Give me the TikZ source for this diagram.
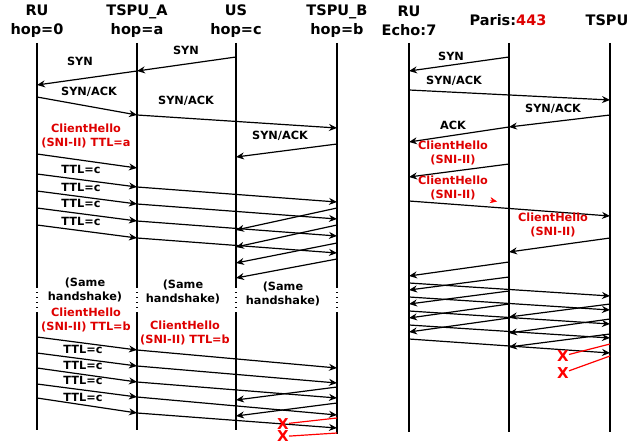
\documentclass[tikz,border=0pt]{standalone}
\usepackage{fontspec}
\setmainfont{DejaVu Sans}
\usepackage{xcolor}
\usepackage{tikz}
\usetikzlibrary{arrows.meta, positioning}
\definecolor{chred}{RGB}{222,0,0}
\tikzset{
  actor/.style={font=\bfseries\fontsize{14.5}{19}\selectfont, align=center, inner sep=0pt},
  msglbl/.style={font=\bfseries\fontsize{11.3}{14}\selectfont, align=center, inner sep=0pt},
  redlbl/.style={msglbl, text=chred},
  lost/.style={font=\bfseries\fontsize{15}{15}\selectfont, text=red, inner sep=0pt},
  lifeline/.style={line width=1.3pt},
  gapline/.style={line width=1.3pt, dash pattern=on 1.2pt off 3.8pt},
  msg/.style={-{Stealth[length=8pt,width=7pt]}, line width=1.2pt},
  dropped/.style={red, line width=1.2pt}
}

\begin{document}
\begin{tikzpicture}[x=1pt, y=-1pt]
  \useasboundingbox (0,0) rectangle (637,444);

  \node[actor] (ru) at (37,21) {RU\\hop=0};
  \node[actor] (tspuA) at (137,21) {TSPU\_A\\hop=a};
  \node[actor] (us) at (236,21) {US\\hop=c};
  \node[actor] (tspuB) at (337,21) {TSPU\_B\\hop=b};
  \node[actor] (echo) at (409,21) {RU\\Echo:7};
  \node[actor] (paris) at (508,20) {Paris:\textcolor{chred}{443}};
  \node[actor] (tspu) at (607,20) {TSPU};

  \foreach \n/\x/\e in {ru/37/430, ta/137/430, us/236/430, tb/337/434}{
    \coordinate (\n-top) at (\x,43);
    \coordinate (\n-gapA) at (\x,287);
    \coordinate (\n-gapB) at (\x,313);
    \coordinate (\n-end) at (\x,\e);
    \draw[lifeline] (\n-top) -- (\n-gapA);
    \draw[gapline] (\n-gapA) -- (\n-gapB);
    \draw[lifeline] (\n-gapB) -- (\n-end);
  }
  \foreach \n/\x in {echo/409, paris/509, tspu/610}{
    \coordinate (\n-top) at (\x,43);
    \coordinate (\n-end) at (\x,432);
    \draw[lifeline] (\n-top) -- (\n-end);
  }

  \foreach \k/\xa/\ya/\xb/\yb in {
      1/236/57/137/71, 2/137/71/37/85, 3/37/97/137/115, 4/137/115/337/128,
      5/337/144/236/157, 6/37/154/137/168,
      7/337/208/236/230, 8/337/225/236/247, 9/337/243/236/263, 10/337/259/236/278,
      11/337/387/236/400, 12/337/403/236/416,
      13/509/57/409/71, 14/409/90/610/100, 15/610/115/509/127, 16/509/127/409/142,
      17/509/164/409/177, 18/409/201/610/216, 19/610/238/509/252,
      20/509/262/409/276, 21/509/277/409/290, 22/509/291/409/304,
      23/509/304/409/318, 24/509/318/409/332,
      25/409/283/610/296, 26/409/297/610/310, 27/409/311/610/324,
      28/409/325/610/338, 29/409/339/610/353,
      30/610/304/509/317, 31/610/319/509/333, 32/610/334/509/347}{
    \coordinate (m\k a) at (\xa,\ya);
    \coordinate (m\k b) at (\xb,\yb);
    \draw[msg] (m\k a) -- (m\k b);
  }

  \foreach \i/\a/\b/\c in {1/174/187/202, 2/191/204/219, 3/208/221/236, 4/225/238/253,
      5/337/350/368, 6/353/366/383, 7/368/382/398, 8/384/397/415, 9/398/413/428}{
    \coordinate (t\i a) at (37,\a);
    \coordinate (t\i b) at (137,\b);
    \coordinate (t\i c) at (337,\c);
    \draw[msg] (t\i a) -- (t\i b);
    \draw[msg] (t\i b) -- (t\i c);
  }

  \node[msglbl] (synA) at (186,50) {SYN};
  \node[msglbl] (synB) at (80,61) {SYN};
  \node[msglbl] (sackA) at (89,92) {SYN/ACK};
  \node[msglbl] (sackB) at (186,101) {SYN/ACK};
  \node[msglbl] (sackC) at (280,136) {SYN/ACK};
  \node[redlbl] (chA) at (86,136) {ClientHello\\(SNI-II) TTL=a};
  \foreach \i/\y in {1/169, 2/187, 3/203, 4/221}
    \node[msglbl] (ttlA\i) at (81,\y) {TTL=c};
  \node[msglbl] (sameA) at (85,290) {(Same\\handshake)};
  \node[msglbl] (sameB) at (183,292) {(Same\\handshake)};
  \node[msglbl] (sameC) at (283,294) {(Same\\handshake)};
  \node[redlbl] (chB) at (86,320) {ClientHello\\(SNI-II) TTL=b};
  \node[redlbl] (chC) at (185,333) {ClientHello\\(SNI-II) TTL=b};
  \foreach \i/\y in {1/349, 2/365, 3/380, 4/397}
    \node[msglbl] (ttlB\i) at (83,\y) {TTL=c};

  \node[msglbl] (synR) at (451,56) {SYN};
  \node[msglbl] (sackR) at (454,81) {SYN/ACK};
  \node[msglbl] (sackS) at (553,109) {SYN/ACK};
  \node[msglbl] (ackR) at (453,125) {ACK};
  \node[redlbl] (chR) at (453,153) {ClientHello\\(SNI-II)};
  \node[redlbl] (chS) at (453,188) {ClientHello\\(SNI-II)};
  \node[redlbl] (chT) at (553,225) {ClientHello\\(SNI-II)};
  \coordinate (ptrA) at (490,200.1);
  \coordinate (ptrB) at (497,201.5);
  \draw[red, line width=0.4pt, -{Stealth[length=7pt,width=6pt]}] (ptrA) -- (ptrB);

  \node[lost] (x1) at (283,424) {X};
  \node[lost] (x2) at (283,436.5) {X};
  \node[lost] (x3) at (563,356) {X};
  \node[lost] (x4) at (563,373) {X};
  \coordinate (d1) at (337,418);
  \coordinate (d2) at (337,433);
  \coordinate (d3) at (610,344);
  \coordinate (d4) at (610,356);
  \draw[dropped] (d1) -- (x1);
  \draw[dropped] (d2) -- (x2);
  \draw[dropped] (d3) -- (x3);
  \draw[dropped] (d4) -- (x4);
\end{tikzpicture}
\end{document}
